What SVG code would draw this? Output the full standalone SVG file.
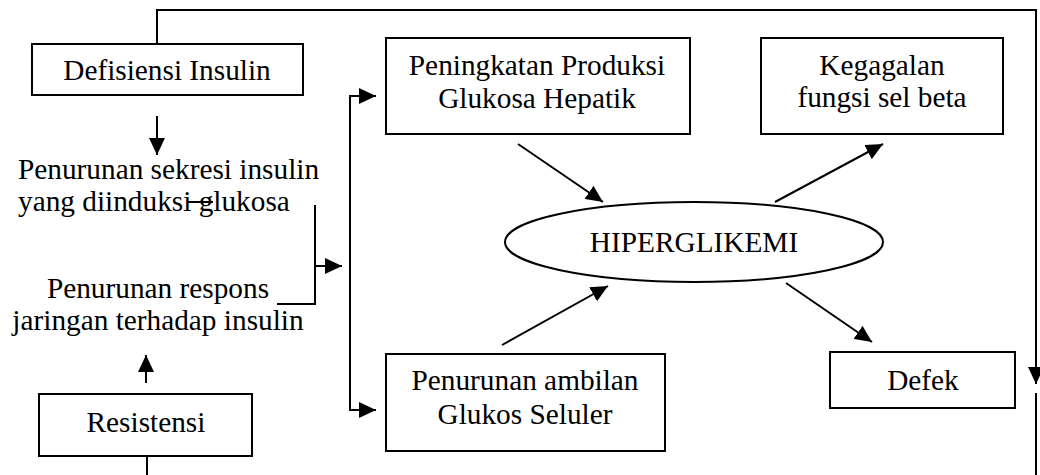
<svg xmlns="http://www.w3.org/2000/svg" width="1040" height="475" viewBox="0 0 1040 475">
<style>
.box{fill:#fff;stroke:#000;stroke-width:2}
.ln{fill:none;stroke:#000;stroke-width:2}
.t{font-family:'Liberation Serif','DejaVu Serif',serif;font-size:29.3px;fill:#000}
.c{text-anchor:middle}
</style>
<defs>
<marker id="ah" markerUnits="userSpaceOnUse" markerWidth="17" markerHeight="16" refX="17" refY="8" orient="auto" viewBox="0 0 17 16">
<path d="M0,0 L17,8 L0,16 z" fill="#000"/>
</marker>
</defs>
<rect width="1040" height="475" fill="#fff"/>
<g id="connectors">
<path class="ln" d="M157,44 V10 H1036 V384" marker-end="url(#ah)"/>
<line class="ln" x1="1036" y1="393" x2="1036" y2="475"/>
<line class="ln" x1="147" y1="456" x2="147" y2="475"/>
<line class="ln" x1="157" y1="116" x2="157" y2="155" marker-end="url(#ah)"/>
<line class="ln" x1="146" y1="383" x2="146" y2="355" marker-end="url(#ah)"/>
<line class="ln" x1="188" y1="202" x2="213" y2="202"/>
<path class="ln" d="M315,205 V304 H277"/>
<line class="ln" x1="315" y1="266" x2="342" y2="266" marker-end="url(#ah)"/>
<line class="ln" x1="350" y1="96" x2="350" y2="410"/>
<line class="ln" x1="349" y1="96" x2="376" y2="96" marker-end="url(#ah)"/>
<line class="ln" x1="349" y1="410" x2="376" y2="410" marker-end="url(#ah)"/>
<line class="ln" x1="518" y1="144" x2="603" y2="202" marker-end="url(#ah)"/>
<line class="ln" x1="502" y1="345" x2="608" y2="286" marker-end="url(#ah)"/>
<line class="ln" x1="775" y1="202" x2="883" y2="144" marker-end="url(#ah)"/>
<line class="ln" x1="786" y1="283" x2="872" y2="342" marker-end="url(#ah)"/>
</g>
<g id="defisiensi">
<rect class="box" x="32" y="44" width="271" height="51"/>
<text class="t c" x="167" y="80">Defisiensi Insulin</text>
</g>
<g id="sekresi">
<text class="t" x="18" y="179">Penurunan sekresi insulin</text>
<text class="t" x="18" y="211">yang diinduksi glukosa</text>
</g>
<g id="respons">
<text class="t c" x="158" y="298">Penurunan respons</text>
<text class="t c" x="158" y="330">jaringan terhadap insulin</text>
</g>
<g id="resistensi">
<rect class="box" x="39" y="394" width="213" height="62"/>
<text class="t c" x="146" y="432">Resistensi</text>
</g>
<g id="peningkatan">
<rect class="box" x="386" y="38" width="304" height="96"/>
<text class="t c" x="537" y="75">Peningkatan Produksi</text>
<text class="t c" x="537" y="108">Glukosa Hepatik</text>
</g>
<g id="penurunan-ambilan">
<rect class="box" x="386" y="354" width="279" height="97"/>
<text class="t c" x="525" y="390">Penurunan ambilan</text>
<text class="t c" x="525" y="424">Glukos Seluler</text>
</g>
<g id="hiperglikemi">
<ellipse class="box" cx="694" cy="242" rx="189" ry="40"/>
<text class="t c" x="694" y="252">HIPERGLIKEMI</text>
</g>
<g id="kegagalan">
<rect class="box" x="761" y="38" width="242" height="96"/>
<text class="t c" x="882" y="75">Kegagalan</text>
<text class="t c" x="882" y="107">fungsi sel beta</text>
</g>
<g id="defek">
<rect class="box" x="830" y="352" width="185" height="56"/>
<text class="t c" x="923" y="390">Defek</text>
</g>
</svg>
